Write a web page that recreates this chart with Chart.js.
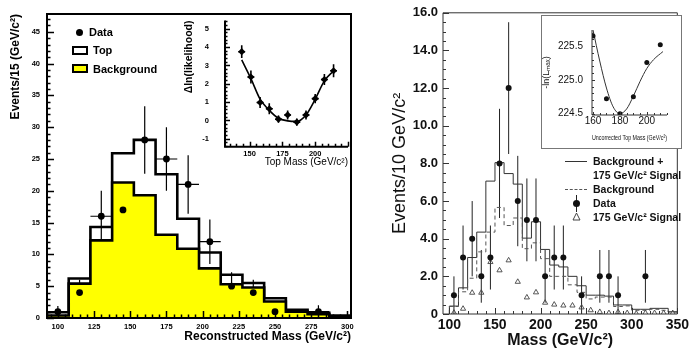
<!DOCTYPE html>
<html>
<head>
<meta charset="utf-8">
<script src="https://cdn.jsdelivr.net/npm/chart.js@4.4.1/dist/chart.umd.min.js"></script>
<style>
  html, body { margin: 0; padding: 0; background: #fff; }
  #wrap { position: relative; width: 692px; height: 350px; overflow: hidden; font-family: "Liberation Sans", Arial, sans-serif; }
  canvas { position: absolute; }
  .t { position: absolute; white-space: nowrap; line-height: 1; }
  .lgL { font-weight: bold; font-size: 11px; color: #000; }
  .lgR { font-weight: bold; font-size: 10.5px; color: #111; }
</style>
</head>
<body>
<div id="wrap">
  <canvas id="mainL" width="360" height="350" style="left:0;top:0"></canvas>
  <canvas id="insetL" width="172" height="175" style="left:180px;top:0"></canvas>
  <canvas id="mainR" width="332" height="350" style="left:360px;top:0"></canvas>
  <div style="position:absolute;left:541px;top:15px;width:139px;height:132px;border:1px solid #777;background:#fff"></div>
  <canvas id="insetR" width="141" height="134" style="left:541px;top:15px"></canvas>

  <!-- left legend -->
  <div style="position:absolute;left:76px;top:29px;width:7px;height:7px;border-radius:50%;background:#000"></div>
  <div class="t lgL" style="left:89px;top:27px">Data</div>
  <div style="position:absolute;left:72px;top:46px;width:12px;height:5px;border:2px solid #000;background:#fff"></div>
  <div class="t lgL" style="left:93px;top:45px">Top</div>
  <div style="position:absolute;left:72px;top:64px;width:12px;height:5px;border:2px solid #000;background:#ffff00"></div>
  <div class="t lgL" style="left:93px;top:64px">Background</div>

  <!-- right legend -->
  <div style="position:absolute;left:565px;top:161px;width:22px;border-top:1px solid #333"></div>
  <div class="t lgR" style="left:593px;top:156px">Background +</div>
  <div class="t lgR" style="left:593px;top:170px">175 GeV/c² Signal</div>
  <div style="position:absolute;left:565px;top:189px;width:22px;border-top:1px dashed #555"></div>
  <div class="t lgR" style="left:593px;top:184px">Background</div>
  <div style="position:absolute;left:576px;top:195px;width:1px;height:17px;background:#222"></div>
  <div style="position:absolute;left:573px;top:200px;width:7px;height:7px;border-radius:50%;background:#111"></div>
  <div class="t lgR" style="left:593px;top:198px">Data</div>
  <svg style="position:absolute;left:572px;top:212px" width="9" height="9"><polygon points="4.5,1 8,8 1,8" fill="none" stroke="#444" stroke-width="1"/></svg>
  <div class="t lgR" style="left:593px;top:212px">175 GeV/c² Signal</div>
</div>

<script>
// ---- left panel: reconstructed mass, 15 GeV bins ----
const massL = [100, 115, 130, 145, 160, 175, 190, 205, 220, 235, 250, 265, 280, 295];
const topL  = [0.9, 6.2, 14.3, 25.9, 28.0, 22.6, 15.6, 10.3, 6.8, 5.5, 3.1, 1.3, 0.8, 0.4];
const bkgL  = [0.4, 5.4, 12.2, 21.3, 19.3, 13.1, 10.9, 7.8, 5.3, 4.8, 2.6, 1.0, 0.6, 0.2];
const dataL = [1, 4, 16, 17, 28, 25, 21, 12, 5, 4, 1, null, 1, null];
const errL  = [0.9, 2.0, 4.0, 4.1, 5.3, 5.0, 4.6, 3.5, 2.2, 2.0, 1.0, null, 1.0, null];
const ticksLx = [100, 125, 150, 175, 200, 225, 250, 275, 300];

// left inset: likelihood scan
const scanMassL = [144, 151, 158, 165, 172, 179, 186, 193, 200, 207, 214];
const scanL     = [3.75, 2.37, 0.98, 0.64, 0.07, 0.30, -0.09, 0.30, 1.19, 2.23, 2.71];
const scanErrL  = [0.35, 0.35, 0.3, 0.3, 0.2, 0.25, 0.2, 0.25, 0.25, 0.3, 0.35];
const fitL      = [3.3, 2.28, 1.16, 0.55, 0.12, -0.02, -0.05, 0.3, 1.16, 2.16, 2.7];

// ---- right panel: mass, 10 GeV bins ----
const massR = [105, 115, 125, 135, 145, 155, 165, 175, 185, 195, 205, 215, 225, 235, 245, 255, 265, 275, 285, 295, 305, 315, 325, 335, 345];
const sumR  = [0.42, 1.39, 3.0, 4.35, 7.06, 8.04, 7.46, 6.9, 4.03, 4.9, 3.43, 2.6, 2.5, 2.0, 1.5, 1.0, 1.0, 0.95, 0.48, 0.48, 0.25, 0.25, 0.3, 0.3, 0.12];
const bkgR  = [0.4, 1.18, 1.9, 3.3, 4.35, 5.66, 4.7, 5.1, 3.47, 3.78, 2.94, 2.0, 2.0, 1.55, 1.15, 0.8, 0.9, 0.9, 0.4, 0.43, 0.2, 0.2, 0.25, 0.2, 0.1];
const sigR  = [0.07, 0.28, 1.13, 1.13, 2.76, 2.32, 2.85, 1.71, 0.88, 1.15, 0.6, 0.5, 0.45, 0.45, 0.35, 0.2, 0.11, 0.05, 0.1, 0.05, 0.02, 0.05, 0.05, 0.05, 0.05];
const dataR = [1, 3, 4, 2, 3, 8, 12, 6, 5, 5, 2, 3, 3, null, 1, null, 2, 2, 1, null, null, 2, null, null, null];
const errR  = [1.0, 1.7, 2.0, 1.4, 1.7, 2.9, 3.5, 2.4, 2.2, 2.2, 1.4, 1.7, 1.7, null, 1.0, null, 1.4, 1.4, 1.0, null, null, 1.4, null, null, null];

// right inset: -ln(Lmax) vs uncorrected top mass
const scanMassR = [160, 170, 180, 190, 200, 210];
const scanR     = [225.65, 224.72, 224.5, 224.75, 225.26, 225.52];
const fitMassR  = [160, 165, 170, 175, 180, 185, 190, 195, 200, 205, 212];
const fitR      = [225.74, 225.28, 224.88, 224.6, 224.5, 224.57, 224.76, 224.98, 225.17, 225.3, 225.42];

// histogram outline as stepped points (bin centre -> bin edges)
function steps(centres, width, vals) {
  const pts = [{ x: centres[0] - width / 2, y: 0 }];
  vals.forEach((v, i) => pts.push({ x: centres[i] - width / 2, y: v }));
  const hi = centres[centres.length - 1] + width / 2;
  pts.push({ x: hi, y: vals[vals.length - 1] });
  pts.push({ x: hi, y: 0 });
  return pts;
}
const pts = (xs, ys) => xs.map((x, i) => ({ x: x, y: ys[i] }));

// frame + inward ticks, paw/root style
const frameTicks = {
  id: 'frameTicks',
  afterDraw(chart, args, o) {
    const { ctx, chartArea: a } = chart;
    ctx.save();
    ctx.strokeStyle = o.color;
    ctx.lineWidth = o.lineWidth;
    ctx.beginPath();
    if (o.box) {
      ctx.rect(a.left, a.top, a.right - a.left, a.bottom - a.top);
    } else {
      ctx.moveTo(a.left, a.top); ctx.lineTo(a.left, a.bottom); ctx.lineTo(a.right, a.bottom);
    }
    ctx.stroke();
    ctx.lineWidth = o.tickWidth;
    for (const id of ['x', 'y']) {
      const t = o[id], s = chart.scales[id];
      const k0 = Math.ceil(s.min / t.minor - 1e-6), k1 = Math.floor(s.max / t.minor + 1e-6);
      ctx.beginPath();
      for (let k = k0; k <= k1; k++) {
        const v = k * t.minor;
        const r = v / t.major;
        const len = Math.abs(r - Math.round(r)) < 1e-6 ? t.majorLen : t.minorLen;
        const p = Math.round(s.getPixelForValue(v)) + 0.5;
        if (id === 'x') { ctx.moveTo(p, a.bottom); ctx.lineTo(p, a.bottom - len); }
        else { ctx.moveTo(a.left, p); ctx.lineTo(a.left + len, p); }
      }
      ctx.stroke();
    }
    ctx.restore();
  }
};

// error bars from dataset.errY / dataset.errX
const errorBars = {
  id: 'errorBars',
  beforeDatasetsDraw(chart) {
    const { ctx } = chart;
    const xs = chart.scales.x, ys = chart.scales.y;
    chart.data.datasets.forEach(ds => {
      if (!ds.errY) return;
      ctx.save();
      ctx.strokeStyle = ds.errColor || '#000';
      ctx.lineWidth = ds.errWidth || 1;
      ctx.beginPath();
      ds.data.forEach((p, j) => {
        if (p.y == null) return;
        const e = ds.errY[j];
        const px = xs.getPixelForValue(p.x), py = ys.getPixelForValue(p.y);
        ctx.moveTo(px, ys.getPixelForValue(p.y - e));
        ctx.lineTo(px, ys.getPixelForValue(p.y + e));
        if (ds.errX) {
          ctx.moveTo(xs.getPixelForValue(p.x - ds.errX), py);
          ctx.lineTo(xs.getPixelForValue(p.x + ds.errX), py);
        }
      });
      ctx.stroke();
      ctx.restore();
    });
  }
};

const fix = (w, h) => s => { if (w != null) s.width = w; if (h != null) s.height = h; };
const font = (size, weight, family) => ({ size: size, weight: weight || 'normal', family: family || '"Liberation Sans", Arial, sans-serif', lineHeight: 1.2 });

// ===== left main =====
new Chart(document.getElementById('mainL'), {
  type: 'scatter',
  data: {
    datasets: [
      { type: 'line', data: pts(massL, dataL), showLine: false,
        pointRadius: 3.4, pointBackgroundColor: '#000', pointBorderWidth: 0,
        errY: errL, errX: 7.5, errWidth: 1.2 },
      { type: 'line', data: steps(massL, 15, bkgL), stepped: true, pointRadius: 0,
        borderColor: '#000', borderWidth: 2.6, backgroundColor: '#ffff00', fill: 'origin' },
      { type: 'line', data: steps(massL, 15, topL), stepped: true, pointRadius: 0,
        borderColor: '#000', borderWidth: 2.6, fill: false }
    ]
  },
  options: {
    responsive: false, animation: false,
    layout: { padding: { top: 14, right: 9, left: 0, bottom: 0 } },
    plugins: {
      legend: { display: false }, tooltip: { enabled: false },
      frameTicks: { color: '#000', lineWidth: 2, tickWidth: 1.5, box: true,
        x: { major: 25, minor: 5, majorLen: 7, minorLen: 3.5 },
        y: { major: 5, minor: 1, majorLen: 7, minorLen: 3.5 } }
    },
    scales: {
      x: { type: 'linear', min: 92.5, max: 302.5, afterFit: fix(null, 32),
        afterBuildTicks: s => { s.ticks = ticksLx.map(v => ({ value: v })); },
        grid: { display: false, drawTicks: false }, border: { display: false },
        ticks: { padding: 4, color: '#000', font: font(7.5, 'bold'), maxRotation: 0, autoSkip: false },
        title: { display: true, text: 'Reconstructed Mass (GeV/c²)', align: 'end', color: '#000',
          font: font(12, 'bold'), padding: { top: 0, bottom: 6 } } },
      y: { min: 0, max: 47.8, afterFit: fix(47, null),
        afterBuildTicks: s => { s.ticks = [0, 5, 10, 15, 20, 25, 30, 35, 40, 45].map(v => ({ value: v })); },
        grid: { display: false, drawTicks: false }, border: { display: false },
        ticks: { padding: 7, color: '#000', font: font(7.5, 'bold') },
        title: { display: true, text: 'Events/15 (GeV/c²)', align: 'end', color: '#000',
          font: font(12, 'bold'), padding: { top: 8, bottom: 0 } } }
    }
  },
  plugins: [frameTicks, errorBars]
});

// ===== left inset =====
new Chart(document.getElementById('insetL'), {
  type: 'scatter',
  data: {
    datasets: [
      { type: 'line', data: pts(scanMassL, scanL), showLine: false, pointStyle: 'rectRot',
        pointRadius: 3.6, pointBackgroundColor: '#000', pointBorderWidth: 0,
        errY: scanErrL, errX: 2.6, errWidth: 1.6 },
      { type: 'line', data: pts(scanMassL, fitL), pointRadius: 0, borderColor: '#000',
        borderWidth: 1.6, cubicInterpolationMode: 'monotone', fill: false }
    ]
  },
  options: {
    responsive: false, animation: false,
    layout: { padding: { top: 14, right: 2, left: 0, bottom: 0 } },
    plugins: {
      legend: { display: false }, tooltip: { enabled: false },
      frameTicks: { color: '#000', lineWidth: 2, tickWidth: 1.5, box: false,
        x: { major: 25, minor: 5, majorLen: 5, minorLen: 3 },
        y: { major: 1, minor: 0.2, majorLen: 5, minorLen: 2.5 } }
    },
    scales: {
      x: { type: 'linear', min: 131.25, max: 225, afterFit: fix(null, 28.3),
        afterBuildTicks: s => { s.ticks = [150, 175, 200].map(v => ({ value: v })); },
        grid: { display: false, drawTicks: false }, border: { display: false },
        ticks: { padding: 3, color: '#000', font: font(7.5, 'bold'), maxRotation: 0, autoSkip: false },
        title: { display: true, text: 'Top Mass (GeV/c²)', align: 'end', color: '#000',
          font: font(10), padding: { top: 0, bottom: 7 } } },
      y: { min: -1.43, max: 5.45, afterFit: fix(45, null),
        afterBuildTicks: s => { s.ticks = [-1, 0, 1, 2, 3, 4, 5].map(v => ({ value: v })); },
        grid: { display: false, drawTicks: false }, border: { display: false },
        ticks: { padding: 16, color: '#000', font: font(7.5, 'bold') },
        title: { display: true, text: 'Δln(likelihood)', align: 'end', color: '#000',
          font: font(10.5, 'bold'), padding: { top: 3, bottom: 0 } } }
    }
  },
  plugins: [frameTicks, errorBars]
});

// ===== right main =====
new Chart(document.getElementById('mainR'), {
  type: 'scatter',
  data: {
    datasets: [
      { type: 'line', data: pts(massR, dataR), showLine: false,
        pointRadius: 3, pointBackgroundColor: '#111', pointBorderWidth: 0,
        errY: errR, errColor: '#222', errWidth: 1 },
      { type: 'line', data: pts(massR, sigR), showLine: false, pointStyle: 'triangle',
        pointRadius: 3, pointBackgroundColor: 'rgba(0,0,0,0)', pointBorderColor: '#444', pointBorderWidth: 0.9 },
      { type: 'line', data: steps(massR, 10, bkgR), stepped: true, pointRadius: 0,
        borderColor: '#555', borderWidth: 1, borderDash: [4, 3], fill: false },
      { type: 'line', data: steps(massR, 10, sumR), stepped: true, pointRadius: 0,
        borderColor: '#333', borderWidth: 1, fill: false }
    ]
  },
  options: {
    responsive: false, animation: false,
    layout: { padding: { top: 10, right: 8, left: 0, bottom: 0 } },
    plugins: {
      legend: { display: false }, tooltip: { enabled: false },
      frameTicks: { color: '#333', lineWidth: 1, tickWidth: 1, box: true,
        x: { major: 50, minor: 10, majorLen: 6, minorLen: 3 },
        y: { major: 2, minor: 0.5, majorLen: 6, minorLen: 3 } }
    },
    scales: {
      x: { type: 'linear', min: 93, max: 350, afterFit: fix(null, 36),
        afterBuildTicks: s => { s.ticks = [100, 150, 200, 250, 300, 350].map(v => ({ value: v })); },
        grid: { display: false, drawTicks: false }, border: { display: false },
        ticks: { padding: 3, color: '#111', font: font(14, 'bold'), maxRotation: 0, autoSkip: false },
        title: { display: true, text: 'Mass (GeV/c²)', color: '#111',
          font: font(16, 'bold'), padding: { top: 0, bottom: 0 } } },
      y: { min: 0, max: 16, afterFit: fix(83, null),
        afterBuildTicks: s => { s.ticks = [0, 2, 4, 6, 8, 10, 12, 14, 16].map(v => ({ value: v })); },
        grid: { display: false, drawTicks: false }, border: { display: false },
        ticks: { padding: 5, color: '#111', font: font(13, 'bold'),
          callback: v => v === 0 ? '0' : v.toFixed(1) },
        title: { display: true, text: 'Events/10 GeV/c²', color: '#111',
          font: font(18), padding: { top: 29, bottom: 0 } } }
    }
  },
  plugins: [frameTicks, errorBars]
});

// ===== right inset =====
new Chart(document.getElementById('insetR'), {
  type: 'scatter',
  data: {
    datasets: [
      { type: 'line', data: pts(scanMassR, scanR), showLine: false,
        pointRadius: 2.5, pointBackgroundColor: '#111', pointBorderWidth: 0 },
      { type: 'line', data: pts(fitMassR, fitR), pointRadius: 0, borderColor: '#333',
        borderWidth: 1, cubicInterpolationMode: 'monotone', fill: false }
    ]
  },
  options: {
    responsive: false, animation: false,
    layout: { padding: { top: 3, right: 15, left: 0, bottom: 0 } },
    plugins: {
      legend: { display: false }, tooltip: { enabled: false },
      frameTicks: { color: '#333', lineWidth: 1, tickWidth: 1, box: false,
        x: { major: 20, minor: 5, majorLen: 3, minorLen: 2 },
        y: { major: 0.5, minor: 0.1, majorLen: 3, minorLen: 2 } }
    },
    scales: {
      x: { type: 'linear', min: 159.25, max: 215, afterFit: fix(null, 34),
        afterBuildTicks: s => { s.ticks = [160, 180, 200].map(v => ({ value: v })); },
        grid: { display: false, drawTicks: false }, border: { display: false },
        ticks: { padding: 0, color: '#111', font: font(10), maxRotation: 0, autoSkip: false },
        title: { display: true, text: 'Uncorrected Top Mass (GeV/c²)', color: '#111',
          font: font(8), padding: { top: 0, bottom: 6 } } },
      y: { min: 224.48, max: 225.74, afterFit: fix(51, null),
        afterBuildTicks: s => { s.ticks = [224.5, 225.0, 225.5].map(v => ({ value: v })); },
        grid: { display: false, drawTicks: false }, border: { display: false },
        ticks: { padding: 9, color: '#111', font: font(10), callback: v => v.toFixed(1) },
        title: { display: true, text: '-ln(Lₘₐₓ)', color: '#111',
          font: font(9), padding: { top: 0, bottom: 0 } } }
    }
  },
  plugins: [frameTicks]
});
</script>
</body>
</html>
